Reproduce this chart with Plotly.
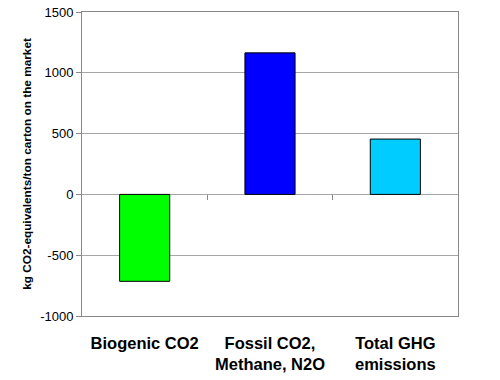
import plotly.graph_objects as go

categories = ["Biogenic CO2", "Fossil CO2,<br>Methane, N2O", "Total GHG<br>emissions"]
values = [-715, 1164, 455]
colors = ["#00ff00", "#0000ff", "#00ccff"]
y_ticks = [-1000, -500, 0, 500, 1000, 1500]
y_ticktext = ["-1000", "-500", "0", "500", "1000", "1500"]
y_title = "kg CO2-equivalents/ton carton on the market"

fig = go.Figure()
fig.add_trace(go.Bar(
    x=list(range(len(categories))), y=values,
    marker=dict(color=colors, line=dict(color="black", width=1)),
    width=0.4,
))
# invisible trace to get category tick marks along the zero line
fig.add_trace(go.Scatter(x=[0, 2], y=[0, 0], xaxis="x2", mode="markers",
                         marker=dict(opacity=0), hoverinfo="skip", showlegend=False))

fig.update_layout(
    width=500, height=380,
    margin=dict(l=82, r=42, t=12, b=64, autoexpand=False),
    paper_bgcolor="white", plot_bgcolor="white",
    showlegend=False,
    font=dict(family="Liberation Sans, Arial", color="black"),
    xaxis=dict(
        range=[-0.5, 2.5], tickmode="array",
        tickvals=list(range(len(categories))), ticktext=categories,
        ticks="", showgrid=False, zeroline=False, automargin=False,
        showline=True, linecolor="#888888", linewidth=1, mirror=True,
        tickfont=dict(size=16.5, family="Liberation Sans, Arial", color="black", weight="bold"),
        ticklabelstandoff=12,
    ),
    xaxis2=dict(
        overlaying="x", anchor="free", position=0.4, side="bottom",
        range=[-0.5, 2.5], tickmode="array", tickvals=[0.5, 1.5],
        ticks="outside", ticklen=5, tickcolor="#888888", showticklabels=False,
        showgrid=False, zeroline=False, showline=False, automargin=False,
    ),
    yaxis=dict(
        range=[-1000, 1500], tickmode="array", tickvals=y_ticks, ticktext=y_ticktext,
        ticks="outside", ticklen=5, tickcolor="#888888", automargin=False,
        showgrid=True, gridcolor="#a6a6a6", gridwidth=1,
        zeroline=True, zerolinecolor="#a6a6a6", zerolinewidth=1,
        showline=True, linecolor="#888888", linewidth=1, mirror=True,
        tickfont=dict(size=13, family="Liberation Sans, Arial", color="black"),
        title=dict(text=y_title, font=dict(size=11.8, family="Liberation Sans, Arial",
                                           color="black", weight="bold"), standoff=6),
    ),
)

fig.write_html("out.html", config={"displayModeBar": False},
               post_script="document.body.style.margin='0';")
